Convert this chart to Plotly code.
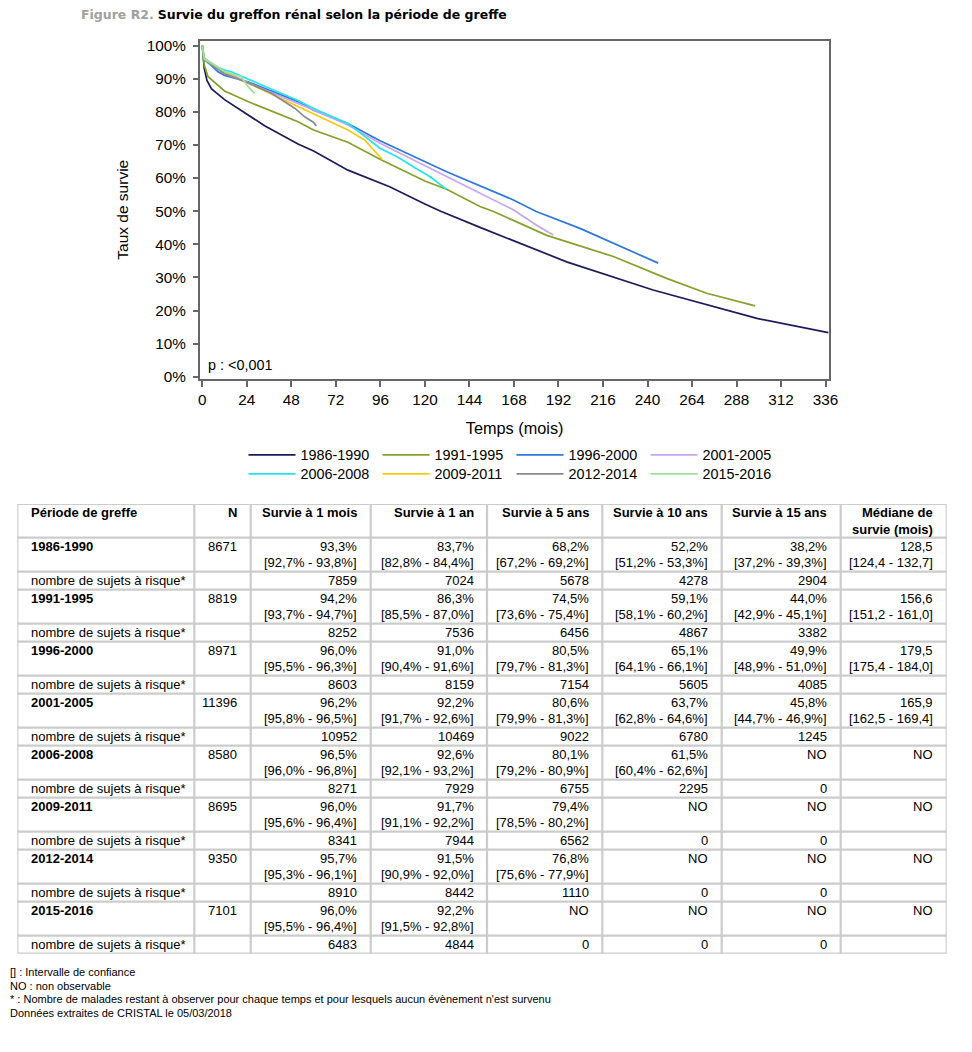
import plotly.graph_objects as go

# ---------------- data ----------------
periods = ["1986-1990", "1991-1995", "1996-2000", "2001-2005",
           "2006-2008", "2009-2011", "2012-2014", "2015-2016"]
colors = ["#1c1c5c", "#83a22a", "#2f78e0", "#c8a4ee",
          "#22e6ea", "#f6c80e", "#8a8a8a", "#96e696"]

t_1986 = [0, 0.5, 1, 2.5, 5, 12, 15.6, 33.6, 51.6, 60, 78.5, 101, 120, 128.5, 149.7, 180, 196.4, 243, 299, 337.5]
s_1986 = [100, 95, 93.3, 89.5, 86.9, 83.7, 82.4, 75.8, 70.3, 68.2, 62.4, 57.4, 52.2, 50.0, 45.1, 38.2, 34.7, 26.2, 17.6, 13.3]

t_1991 = [0, 0.5, 1, 3.1, 10.2, 12, 24.6, 51.6, 60, 78.5, 95.8, 120, 131.7, 149.7, 156.6, 180, 185.7, 221.6, 250.3, 271.9, 298]
s_1991 = [100, 96, 94.2, 90.6, 87.0, 86.3, 83.1, 77.0, 74.5, 70.8, 65.7, 59.1, 56.6, 51.4, 50.0, 44.0, 42.7, 36.3, 29.7, 25.2, 21.4]

t_1996 = [0, 0.5, 1, 8.5, 12, 24.6, 51.6, 60, 78.5, 95.8, 120, 131.7, 167.7, 180, 203.6, 221.6, 237.7, 245.8]
s_1996 = [100, 97, 96.0, 92.1, 91.0, 89.1, 83.1, 80.5, 76.5, 71.3, 65.1, 61.9, 53.4, 49.9, 44.8, 40.3, 36.3, 34.3]

t_2001 = [0, 0.5, 1, 12, 30, 60, 78.5, 95.8, 120, 131.7, 167.7, 180, 189.2]
s_2001 = [100, 97, 96.2, 92.2, 87.5, 80.6, 76.0, 70.5, 63.7, 60.4, 50.4, 45.8, 42.8]

t_2006 = [0, 0.5, 1, 3.1, 12, 15.6, 51.6, 60, 78.5, 95.8, 105.5, 113.7, 120, 122.8, 131.7]
s_2006 = [100, 97.5, 96.5, 94.7, 92.6, 92.1, 83.4, 81.0, 76.5, 69.0, 66.3, 63.4, 61.5, 60.4, 56.6]

t_2009 = [0, 0.5, 1, 12, 30, 51.6, 60, 78.5, 87.5, 97.0]
s_2009 = [100, 97, 96.0, 91.7, 87.3, 81.6, 79.4, 74.5, 71.5, 65.6]

t_2012 = [0, 0.5, 1, 12, 24.6, 37.2, 49.8, 55.2, 60, 61.5]
s_2012 = [100, 97, 95.7, 91.5, 88.8, 85.6, 81.1, 78.5, 76.8, 75.7]

t_2015 = [0, 0.5, 1, 12, 21, 24.6, 28.2]
s_2015 = [100, 97.5, 96.0, 92.2, 90.6, 87.6, 85.6]

curves_t = [t_1986, t_1991, t_1996, t_2001, t_2006, t_2009, t_2012, t_2015]
curves_s = [s_1986, s_1991, s_1996, s_2001, s_2006, s_2009, s_2012, s_2015]

x_ticks = list(range(0, 337, 24))
y_ticks = list(range(0, 101, 10))

# table data
n_total = [8671, 8819, 8971, 11396, 8580, 8695, 9350, 7101]
surv_1m = ["93,3%", "94,2%", "96,0%", "96,2%", "96,5%", "96,0%", "95,7%", "96,0%"]
ci_1m = ["[92,7% - 93,8%]", "[93,7% - 94,7%]", "[95,5% - 96,3%]", "[95,8% - 96,5%]",
         "[96,0% - 96,8%]", "[95,6% - 96,4%]", "[95,3% - 96,1%]", "[95,5% - 96,4%]"]
risk_1m = [7859, 8252, 8603, 10952, 8271, 8341, 8910, 6483]
surv_1y = ["83,7%", "86,3%", "91,0%", "92,2%", "92,6%", "91,7%", "91,5%", "92,2%"]
ci_1y = ["[82,8% - 84,4%]", "[85,5% - 87,0%]", "[90,4% - 91,6%]", "[91,7% - 92,6%]",
         "[92,1% - 93,2%]", "[91,1% - 92,2%]", "[90,9% - 92,0%]", "[91,5% - 92,8%]"]
risk_1y = [7024, 7536, 8159, 10469, 7929, 7944, 8442, 4844]
surv_5y = ["68,2%", "74,5%", "80,5%", "80,6%", "80,1%", "79,4%", "76,8%", "NO"]
ci_5y = ["[67,2% - 69,2%]", "[73,6% - 75,4%]", "[79,7% - 81,3%]", "[79,9% - 81,3%]",
         "[79,2% - 80,9%]", "[78,5% - 80,2%]", "[75,6% - 77,9%]", ""]
risk_5y = [5678, 6456, 7154, 9022, 6755, 6562, 1110, 0]
surv_10y = ["52,2%", "59,1%", "65,1%", "63,7%", "61,5%", "NO", "NO", "NO"]
ci_10y = ["[51,2% - 53,3%]", "[58,1% - 60,2%]", "[64,1% - 66,1%]", "[62,8% - 64,6%]",
          "[60,4% - 62,6%]", "", "", ""]
risk_10y = [4278, 4867, 5605, 6780, 2295, 0, 0, 0]
surv_15y = ["38,2%", "44,0%", "49,9%", "45,8%", "NO", "NO", "NO", "NO"]
ci_15y = ["[37,2% - 39,3%]", "[42,9% - 45,1%]", "[48,9% - 51,0%]", "[44,7% - 46,9%]", "", "", "", ""]
risk_15y = [2904, 3382, 4085, 1245, 0, 0, 0, 0]
median = ["128,5", "156,6", "179,5", "165,9", "NO", "NO", "NO", "NO"]
ci_median = ["[124,4 - 132,7]", "[151,2 - 161,0]", "[175,4 - 184,0]", "[162,5 - 169,4]", "", "", "", ""]

headers = ["Période de greffe", "N", "Survie à 1 mois", "Survie à 1 an", "Survie à 5 ans",
           "Survie à 10 ans", "Survie à 15 ans", "Médiane de<br>survie (mois)"]
risk_label = "nombre de sujets à risque*"

footnotes = ["[] : Intervalle de confiance", "NO : non observable",
             "* : Nombre de malades restant à observer pour chaque temps et pour lesquels aucun évènement n'est survenu",
             "Données extraites de CRISTAL le 05/03/2018"]

# ---------------- layout constants ----------------
FONT = "Liberation Sans, Arial, sans-serif"
TITLE_FONT = "DejaVu Sans, Verdana, sans-serif"
OX, OY = 8, 8            # page body margin
W, H = 972 - OX, 1052 - OY


def px(x):
    return (x - OX) / W


def py(y):
    return 1 - (y - OY) / H


col_widths = [177, 56.4, 120, 116.3, 115.3, 119.4, 119, 106]
header_h, main_h, risk_h = 33.7, 34.0, 18.0
TBL_LEFT, TBL_TOP = 17.3, 504.0
GRID = "#cccccc"

fig = go.Figure()

for i, (name, col, tt, ss) in enumerate(zip(periods, colors, curves_t, curves_s)):
    fig.add_trace(go.Scatter(x=tt, y=ss, mode="lines", name=name,
                             line=dict(color=col, width=1.7),
                             legend="legend" if i < 4 else "legend2",
                             xaxis="x", yaxis="y"))

# ---------------- table (drawn on hidden pixel-like axes x2/y2) ----------------
col_edges = [0]
for w in col_widths:
    col_edges.append(col_edges[-1] + w)
row_heights = [header_h]
for _ in periods:
    row_heights += [main_h, risk_h]
row_edges = [0]
for h in row_heights:
    row_edges.append(row_edges[-1] + h)
tbl_w, tbl_h = col_edges[-1], row_edges[-1]

rows = [["<br>".join(f"<b>{p}</b>" for p in h.split("<br>")) for h in headers]]
series = [(surv_1m, ci_1m, risk_1m), (surv_1y, ci_1y, risk_1y), (surv_5y, ci_5y, risk_5y),
          (surv_10y, ci_10y, risk_10y), (surv_15y, ci_15y, risk_15y)]
for i, p in enumerate(periods):
    main = [f"<b>{p}</b>", str(n_total[i])]
    risk = [risk_label, ""]
    for sv, ci, rk in series:
        main.append(sv[i] + (f"<br>{ci[i]}" if ci[i] else ""))
        risk.append(str(rk[i]))
    main.append(median[i] + (f"<br>{ci_median[i]}" if ci_median[i] else ""))
    risk.append("")
    rows += [main, risk]

shapes = []
for ye in row_edges:
    shapes.append(dict(type="line", xref="x2", yref="y2", x0=0, x1=tbl_w, y0=ye, y1=ye,
                       line=dict(color=GRID, width=2.2)))
for xe in col_edges:
    shapes.append(dict(type="line", xref="x2", yref="y2", x0=xe, x1=xe, y0=0, y1=tbl_h,
                       line=dict(color=GRID, width=2.2)))

annotations = []
PAD = 11.5
for r, cells in enumerate(rows):
    top = row_edges[r]
    is_risk = (r > 0 and r % 2 == 0)
    for c, txt in enumerate(cells):
        if not txt:
            continue
        for k, ln in enumerate(txt.split("<br>")):
            yc = top + row_heights[r] / 2 if is_risk else top + 8.8 + 16.4 * k
            if c == 0:
                xa, xanc = col_edges[0] + PAD + 0.5, "left"
            else:
                xa, xanc = col_edges[c + 1] - PAD, "right"
            annotations.append(dict(xref="x2", yref="y2", x=xa, y=yc, xanchor=xanc, yanchor="middle",
                                    text=ln, showarrow=False,
                                    font=dict(family=FONT, size=13, color="black")))

# title
annotations.append(dict(xref="paper", yref="paper", x=px(79), y=py(15), xanchor="left", yanchor="middle",
                        text="<span style='color:#a0a0a0'><b>Figure R2.</b></span> <b>Survie du greffon rénal selon la période de greffe</b>",
                        showarrow=False, font=dict(family=TITLE_FONT, size=12.5, color="black")))
# p-value
annotations.append(dict(xref="paper", yref="paper", x=px(206), y=py(365), xanchor="left", yanchor="middle",
                        text="p : <0,001", showarrow=False, font=dict(family=FONT, size=14.4, color="black")))
for i, txt in enumerate(footnotes):
    annotations.append(dict(xref="paper", yref="paper", x=px(8), y=py(972 + 13.7 * i),
                            xanchor="left", yanchor="middle", text=txt, showarrow=False,
                            font=dict(family=FONT, size=11, color="black")))

axis_col = "#666666"
leg_common = dict(orientation="h", xanchor="left", yanchor="top",
                  entrywidth=72, entrywidthmode="pixels", itemwidth=47,
                  font=dict(family=FONT, size=14.4), traceorder="normal",
                  bgcolor="rgba(0,0,0,0)")
fig.update_layout(
    width=W, height=H,
    margin=dict(l=0, r=0, t=0, b=0, autoexpand=False),
    paper_bgcolor="white", plot_bgcolor="white",
    font=dict(family=FONT, color="black"),
    showlegend=True,
    legend=dict(x=px(243.5), y=py(439), **leg_common),
    legend2=dict(x=px(243.5), y=py(458), **leg_common),
    xaxis=dict(domain=[px(200), px(829.3)], range=[-1.24, 338.0],
               tickvals=x_ticks, ticktext=[str(v) for v in x_ticks],
               showline=True, mirror=True, linecolor=axis_col, linewidth=2,
               ticks="outside", ticklen=6, tickwidth=1.5, tickcolor=axis_col,
               showgrid=False, zeroline=False, automargin=False,
               tickfont=dict(family=FONT, size=15.3, color="black"),
               title=dict(text="Temps (mois)", font=dict(family=FONT, size=16.3), standoff=16),
               anchor="y"),
    yaxis=dict(domain=[py(378.5), py(41)], range=[-0.54, 101.4],
               tickvals=y_ticks, ticktext=[f"{v}%" for v in y_ticks],
               showline=True, mirror=True, linecolor=axis_col, linewidth=2,
               ticks="outside", ticklen=5, tickwidth=1.5, tickcolor=axis_col,
               ticklabelstandoff=4,
               showgrid=False, zeroline=False, automargin=False,
               tickfont=dict(family=FONT, size=15.3, color="black"),
               title=dict(text="Taux de survie", font=dict(family=FONT, size=15.5), standoff=14),
               anchor="x"),
    xaxis2=dict(domain=[px(TBL_LEFT), px(TBL_LEFT + tbl_w)], range=[0, tbl_w],
                visible=False, fixedrange=True, anchor="y2"),
    yaxis2=dict(domain=[py(TBL_TOP + tbl_h), py(TBL_TOP)], range=[tbl_h, 0],
                visible=False, fixedrange=True, anchor="x2"),
    shapes=shapes,
    annotations=annotations,
)

fig.write_html("out.html")
